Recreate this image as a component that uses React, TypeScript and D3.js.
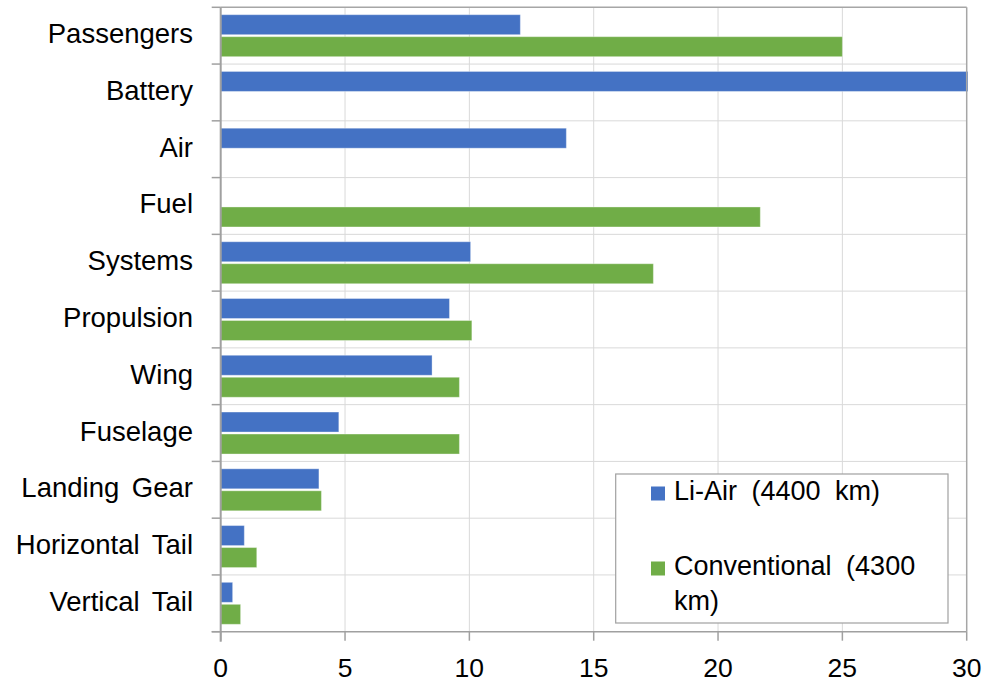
import * as d3 from "d3";

const categories = [
  "Passengers",
  "Battery",
  "Air",
  "Fuel",
  "Systems",
  "Propulsion",
  "Wing",
  "Fuselage",
  "Landing Gear",
  "Horizontal Tail",
  "Vertical Tail",
];

// Li-Air (4400 km)
const liAir = [12.05, 30.05, 13.9, 0, 10.05, 9.2, 8.5, 4.75, 3.95, 0.95, 0.48];
// Conventional (4300 km)
const conventional = [25.0, 0, 0, 21.7, 17.4, 10.1, 9.6, 9.6, 4.05, 1.45, 0.8];

const xTicks = [0, 5, 10, 15, 20, 25, 30];

const seriesNames = ["Li-Air (4400 km)", "Conventional (4300 km)"];
const seriesColors = ["#4472C4", "#70AD47"];

const width = 984;
const height = 682;
const PLOT = { left: 220.7, right: 966.7, top: 7.3, bottom: 631.7 };
const FONT = "Liberation Sans, Arial, sans-serif";

function App() {
  const x = d3.scaleLinear().domain([0, 30]).range([PLOT.left, PLOT.right]);
  const y = d3
    .scaleBand<string>()
    .domain(categories)
    .range([PLOT.top, PLOT.bottom]);
  const inner = d3
    .scaleBand<string>()
    .domain(["a", "b"])
    .range([0, y.bandwidth()])
    .paddingInner(0.091)
    .paddingOuter(0.336);

  const series = [liAir, conventional];
  const boundaries = d3.range(categories.length + 1).map(
    (i) => PLOT.top + i * y.step()
  );

  return (
    <svg
      width={width}
      height={height}
      style={{ position: "absolute", left: 0, top: 0, background: "#fff" }}
      fontFamily={FONT}
    >
      {/* gridlines */}
      {xTicks.slice(1, -1).map((t) => (
        <line key={"vx" + t} x1={x(t)} x2={x(t)} y1={PLOT.top} y2={PLOT.bottom} stroke="#d9d9d9" strokeWidth={1} />
      ))}
      {boundaries.slice(1, -1).map((b, i) => (
        <line key={"hy" + i} x1={PLOT.left} x2={PLOT.right} y1={b} y2={b} stroke="#d9d9d9" strokeWidth={1} />
      ))}

      {/* bars */}
      {categories.map((c, i) =>
        series.map((s, j) =>
          s[i] > 0 ? (
            <rect
              key={c + j}
              x={x(0)}
              y={(y(c) as number) + (inner(j === 0 ? "a" : "b") as number)}
              width={x(s[i]) - x(0)}
              height={inner.bandwidth()}
              fill={seriesColors[j]}
              stroke="#ffffff"
              strokeOpacity={0.35}
              strokeWidth={1}
            />
          ) : null
        )
      )}

      {/* plot border top/right */}
      <line x1={PLOT.left} x2={PLOT.right} y1={PLOT.top} y2={PLOT.top} stroke="#a6a6a6" strokeWidth={1.5} />
      <line x1={PLOT.right} x2={PLOT.right} y1={PLOT.top} y2={PLOT.bottom} stroke="#a6a6a6" strokeWidth={1.5} />

      {/* y axis */}
      <line x1={PLOT.left} x2={PLOT.left} y1={PLOT.top} y2={PLOT.bottom + 10} stroke="#a0a0a0" strokeWidth={2} />
      {boundaries.map((b, i) => (
        <line key={"yt" + i} x1={PLOT.left - 9} x2={PLOT.left} y1={b} y2={b} stroke="#a0a0a0" strokeWidth={1.5} />
      ))}
      {categories.map((c) => (
        <text
          key={"yl" + c}
          x={193}
          y={(y(c) as number) + y.bandwidth() / 2 + 7.5}
          textAnchor="end"
          fontSize={27.5}
          wordSpacing={5}
          fill="#000"
        >
          {c}
        </text>
      ))}

      {/* x axis */}
      <line x1={PLOT.left - 9} x2={PLOT.right} y1={PLOT.bottom} y2={PLOT.bottom} stroke="#a0a0a0" strokeWidth={1.5} />
      {xTicks.map((t) => (
        <g key={"xt" + t}>
          <line x1={x(t)} x2={x(t)} y1={PLOT.bottom} y2={PLOT.bottom + 9} stroke="#a0a0a0" strokeWidth={1.5} />
          <text x={x(t)} y={676.5} textAnchor="middle" fontSize={26.5} fill="#000">
            {t}
          </text>
        </g>
      ))}

      {/* legend */}
      <rect x={615.7} y={474} width={332.3} height={149} fill="#fff" stroke="#a0a0a0" strokeWidth={1.2} />
      <rect x={651} y={486.5} width={14} height={14} fill={seriesColors[0]} />
      <text x={674} y={499.5} fontSize={27} wordSpacing={7} fill="#000">
        {seriesNames[0]}
      </text>
      <rect x={651} y={561.5} width={14} height={14} fill={seriesColors[1]} />
      <text x={674} y={575} fontSize={27} wordSpacing={7} fill="#000">
        {seriesNames[1].replace(" km)", "")}
      </text>
      <text x={674} y={610} fontSize={27} fill="#000">
        km)
      </text>
    </svg>
  );
}

export default App;
